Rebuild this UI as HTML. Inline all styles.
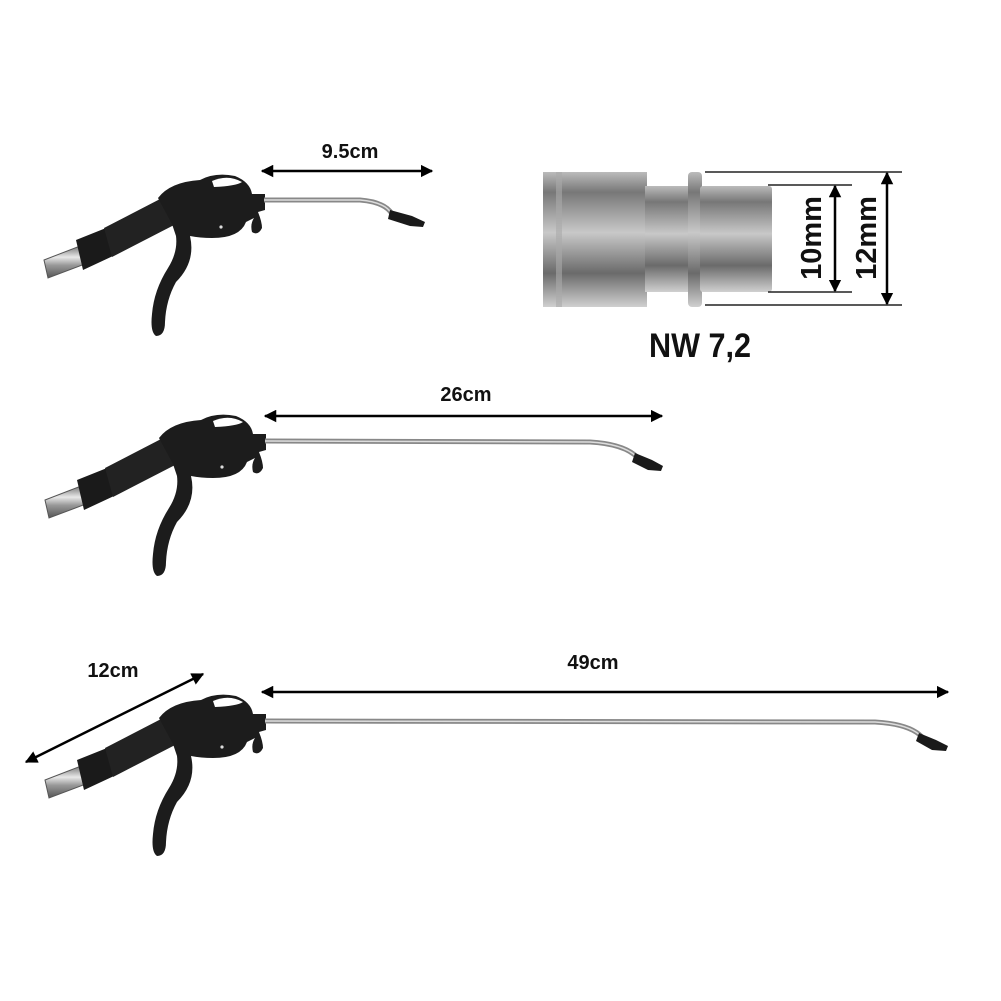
<!DOCTYPE html>
<html><head><meta charset="utf-8"><style>
html,body{margin:0;padding:0;background:#fff}
svg{display:block}
text{font-family:"Liberation Sans",sans-serif;font-weight:bold;fill:#111}
</style></head><body>
<svg width="1001" height="1001" viewBox="0 0 1001 1001" xmlns="http://www.w3.org/2000/svg">
<defs>
<linearGradient id="met" x1="0" y1="0" x2="0" y2="1">
<stop offset="0" stop-color="#777"/><stop offset="0.35" stop-color="#e8e8e8"/><stop offset="0.6" stop-color="#999"/><stop offset="1" stop-color="#555"/>
</linearGradient>
<linearGradient id="fit" x1="0" y1="0" x2="0" y2="1">
<stop offset="0" stop-color="#bbb"/><stop offset="0.15" stop-color="#777"/><stop offset="0.45" stop-color="#c8c8c8"/><stop offset="0.75" stop-color="#6a6a6a"/><stop offset="1" stop-color="#d0d0d0"/>
</linearGradient>
<marker id="ah" viewBox="0 0 10 10" refX="9" refY="5" markerWidth="5" markerHeight="5" orient="auto-start-reverse"><path d="M0,0 L10,5 L0,10 z" fill="#000"/></marker>
<g id="gun">
<polygon points="44,260 80,246 85,264 48,278" fill="url(#met)" stroke="#555" stroke-width="1"/>
<polygon points="76,240 106,228 113,256 83,270" fill="#1a1a1a"/>
<polygon points="104,228 162,198 176,224 112,257" fill="#222"/>
<path d="M158,198 Q170,182 200,180 Q215,172 235,176 Q250,182 252,194 L265,194 L265,210 L258,212 Q262,222 262,228 Q258,236 252,232 Q250,224 254,218 L246,222 Q240,238 212,238 Q200,238 190,236 Q196,262 176,282 Q166,300 165,322 Q165,336 156,336 Q150,332 152,314 Q154,290 168,268 Q178,252 176,236 L172,224 Z" fill="#1c1c1c"/>
<path d="M212,181 Q228,174 242,182 Q236,186 214,187 Z" fill="#fff"/>
<circle cx="221" cy="227" r="1.6" fill="#ddd"/>
</g>
</defs>

<!-- gun 1 -->
<use href="#gun"/>
<path d="M264,200 L360,200 Q385,202 392,214" fill="none" stroke="#888" stroke-width="5"/>
<path d="M264,200 L360,200 Q385,202 392,214" fill="none" stroke="#ddd" stroke-width="1.5"/>
<polygon points="390,210 412,216 425,222 423,227 410,226 388,219" fill="#1a1a1a"/>
<line x1="262" y1="171" x2="432" y2="171" stroke="#000" stroke-width="2.5" marker-start="url(#ah)" marker-end="url(#ah)"/>
<text x="350" y="158" font-size="20" text-anchor="middle">9.5cm</text>

<!-- gun 2 -->
<use href="#gun" transform="translate(1,240)"/>
<path d="M265,441 L590,442 Q625,444 638,458" fill="none" stroke="#888" stroke-width="5"/>
<path d="M265,441 L590,442 Q625,444 638,458" fill="none" stroke="#ddd" stroke-width="1.5"/>
<polygon points="635,453 652,460 663,466 661,471 648,470 632,462" fill="#1a1a1a"/>
<line x1="265" y1="416" x2="662" y2="416" stroke="#000" stroke-width="2.5" marker-start="url(#ah)" marker-end="url(#ah)"/>
<text x="466" y="401" font-size="20" text-anchor="middle">26cm</text>

<!-- gun 3 -->
<use href="#gun" transform="translate(1,520)"/>
<path d="M265,721 L875,722 Q910,724 922,737" fill="none" stroke="#888" stroke-width="5"/>
<path d="M265,721 L875,722 Q910,724 922,737" fill="none" stroke="#ddd" stroke-width="1.5"/>
<polygon points="919,733 936,740 948,746 946,751 932,750 916,741" fill="#1a1a1a"/>
<line x1="262" y1="692" x2="948" y2="692" stroke="#000" stroke-width="2.5" marker-start="url(#ah)" marker-end="url(#ah)"/>
<text x="593" y="669" font-size="20" text-anchor="middle">49cm</text>
<line x1="26" y1="762" x2="203" y2="674" stroke="#000" stroke-width="2.5" marker-start="url(#ah)" marker-end="url(#ah)"/>
<text x="113" y="677" font-size="20" text-anchor="middle">12cm</text>

<!-- fitting -->
<rect x="543" y="172" width="104" height="135" fill="url(#fit)"/>
<rect x="556" y="172" width="6" height="135" fill="#aaa" opacity="0.6"/>
<rect x="645" y="186" width="46" height="106" fill="url(#fit)"/>
<rect x="688" y="172" width="14" height="135" rx="4" fill="url(#fit)"/>
<rect x="700" y="186" width="72" height="106" rx="3" fill="url(#fit)"/>
<g stroke="#222" stroke-width="1.5">
<line x1="705" y1="172" x2="902" y2="172"/><line x1="705" y1="305" x2="902" y2="305"/>
<line x1="768" y1="185" x2="852" y2="185"/><line x1="768" y1="292" x2="852" y2="292"/>
</g>
<line x1="835" y1="186" x2="835" y2="291" stroke="#000" stroke-width="2.5" marker-start="url(#ah)" marker-end="url(#ah)"/>
<line x1="887" y1="173" x2="887" y2="304" stroke="#000" stroke-width="2.5" marker-start="url(#ah)" marker-end="url(#ah)"/>
<text transform="translate(821,238) rotate(-90)" font-size="29" text-anchor="middle">10mm</text>
<text transform="translate(876,238) rotate(-90)" font-size="29" text-anchor="middle">12mm</text>
<text x="700" y="357" font-size="34" text-anchor="middle" transform="translate(700,0) scale(0.9,1) translate(-700,0)">NW 7,2</text>
</svg>
</body></html>
